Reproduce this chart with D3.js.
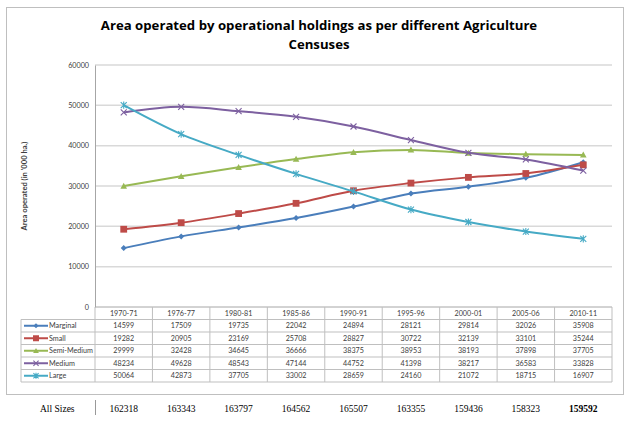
<!DOCTYPE html>
<html><head><meta charset="utf-8">
<script src="https://cdn.jsdelivr.net/npm/d3@7"></script>
<style>body{margin:0;background:#fff}svg{display:block}</style>
</head><body>
<script>
const categories = ["1970-71","1976-77","1980-81","1985-86","1990-91","1995-96","2000-01","2005-06","2010-11"];
const seriesNames = ["Marginal","Small","Semi-Medium","Medium","Large"];
const marginal   = [14599,17509,19735,22042,24894,28121,29814,32026,35908];
const small      = [19282,20905,23169,25708,28827,30722,32139,33101,35244];
const semiMedium = [29999,32428,34645,36666,38375,38953,38193,37898,37705];
const medium     = [48234,49628,48543,47144,44752,41398,38217,36583,33828];
const large      = [50064,42873,37705,33002,28659,24160,21072,18715,16907];
const allSizes   = [162318,163343,163797,164562,165507,163355,159436,158323,159592];
const yTicks = [0,10000,20000,30000,40000,50000,60000];
const colors = ["#4A7EBB","#BE4B48","#98B954","#7D60A0","#46AAC5"];
const markers = ["diamond","square","triangle","x","star"];
const seriesValues = [marginal, small, semiMedium, medium, large];

(function(){
const W=640,H=430;
const svg=d3.select("body").append("svg").attr("width",W).attr("height",H);
const font="Lato, 'Open Sans', sans-serif";

svg.append("rect").attr("x",6.5).attr("y",7.5).attr("width",617).attr("height",387)
  .attr("fill","#fff").attr("stroke","#bfbfbf").attr("stroke-width",1);

const title=svg.append("text").attr("x",319).attr("text-anchor","middle")
  .attr("font-family","'Open Sans', sans-serif").attr("font-weight","bold").attr("font-size",13.2).attr("fill","#000");
title.append("tspan").attr("x",319).attr("y",30).text("Area operated by operational holdings as per different Agriculture");
title.append("tspan").attr("x",319).attr("y",49).text("Censuses");

const x=d3.scaleBand().domain(categories).range([95,612]);
const y=d3.scaleLinear().domain([0,60000]).range([307,65]);
const cx=d=>x(d)+x.bandwidth()/2;

svg.append("g").selectAll("line").data(yTicks.slice(1)).join("line")
  .attr("x1",95).attr("x2",612).attr("y1",d=>y(d)).attr("y2",d=>y(d))
  .attr("stroke","#d9d9d9").attr("stroke-width",1.5);

const yAxis=d3.axisLeft(y).tickValues(yTicks).tickSize(0).tickPadding(6).tickFormat(d3.format("d"));
const ga=svg.append("g").attr("transform","translate(95,0)").call(yAxis);
ga.select(".domain").attr("stroke","#a6a6a6").attr("stroke-width",1);
ga.selectAll("text").attr("font-family",font).attr("font-size",7.2).attr("fill","#404040");

svg.append("text").attr("transform","translate(27,186) rotate(-90)").attr("text-anchor","middle")
  .attr("font-family",font).attr("font-weight","bold").attr("font-size",7.6).attr("fill","#404040")
  .text("Area operated (in '000 ha.)");

function drawMarker(g,type,color,size){
  const s=size;
  if(type==="diamond") g.append("path").attr("d",`M0,${-s}L${s},0L0,${s}L${-s},0Z`).attr("fill",color);
  else if(type==="square") g.append("rect").attr("x",-s).attr("y",-s).attr("width",2*s).attr("height",2*s).attr("fill",color);
  else if(type==="triangle") g.append("path").attr("d",`M0,${-s*1.1}L${s*1.1},${s*0.9}L${-s*1.1},${s*0.9}Z`).attr("fill",color);
  else if(type==="x") g.append("path").attr("d",`M${-s},${-s}L${s},${s}M${-s},${s}L${s},${-s}`).attr("stroke",color).attr("stroke-width",1.1).attr("fill","none");
  else if(type==="star") g.append("path").attr("d",`M${-s},${-s}L${s},${s}M${-s},${s}L${s},${-s}M0,${-s*1.2}L0,${s*1.2}`).attr("stroke",color).attr("stroke-width",1.1).attr("fill","none");
}

const line=d3.line().x((d,i)=>cx(categories[i])).y(d=>y(d)).curve(d3.curveMonotoneX);
seriesValues.forEach((vals,k)=>{
  svg.append("path").datum(vals).attr("d",line).attr("fill","none")
    .attr("stroke",colors[k]).attr("stroke-width",2);
  vals.forEach((v,i)=>{
    const g=svg.append("g").attr("transform",`translate(${cx(categories[i])},${y(v)})`);
    drawMarker(g,markers[k],colors[k],markers[k]==="square"?3.4:3);
  });
});

const rowH=12.5, tTop=307, tleft=21, tright=612;
const tb=svg.append("g");
const lineCol="#bfbfbf";
tb.append("line").attr("x1",95).attr("x2",tright).attr("y1",tTop).attr("y2",tTop).attr("stroke","#a6a6a6");
for(let r=1;r<=6;r++){
  tb.append("line").attr("x1",tleft).attr("x2",tright).attr("y1",tTop+r*rowH).attr("y2",tTop+r*rowH).attr("stroke",lineCol);
}
tb.append("line").attr("x1",tleft).attr("x2",tleft).attr("y1",tTop+rowH).attr("y2",tTop+6*rowH).attr("stroke",lineCol);
[95].concat(categories.map(c=>x(c)+x.bandwidth())).forEach(xx=>{
  tb.append("line").attr("x1",xx).attr("x2",xx).attr("y1",tTop).attr("y2",tTop+6*rowH).attr("stroke",lineCol);
});
tb.selectAll("text.h").data(categories).join("text").attr("class","h")
  .attr("x",d=>cx(d)).attr("y",tTop+rowH/2+2.6).attr("text-anchor","middle")
  .attr("font-family",font).attr("font-size",7.2).attr("fill","#404040").text(d=>d);
seriesNames.forEach((name,k)=>{
  const yy=tTop+(k+1)*rowH+rowH/2;
  tb.append("line").attr("x1",24).attr("x2",48).attr("y1",yy).attr("y2",yy).attr("stroke",colors[k]).attr("stroke-width",2);
  const g=tb.append("g").attr("transform",`translate(36,${yy})`);
  drawMarker(g,markers[k],colors[k],markers[k]==="square"?3:2.6);
  tb.append("text").attr("x",49).attr("y",yy+2.6).attr("font-family",font).attr("font-size",7.2).attr("fill","#404040").text(name);
  seriesValues[k].forEach((v,i)=>{
    tb.append("text").attr("x",cx(categories[i])).attr("y",yy+2.6).attr("text-anchor","middle")
      .attr("font-family",font).attr("font-size",7.2).attr("fill","#404040").text(v);
  });
});

svg.append("text").attr("x",40).attr("y",412).attr("font-family","'Liberation Serif', serif").attr("font-size",9.5).attr("fill","#000").text("All Sizes");
svg.append("line").attr("x1",95.5).attr("x2",95.5).attr("y1",400).attr("y2",415).attr("stroke","#999");
svg.selectAll("text.all").data(allSizes).join("text").attr("class","all")
  .attr("x",(d,i)=>cx(categories[i])).attr("y",412).attr("text-anchor","middle")
  .attr("font-family","'Liberation Serif', serif").attr("font-size",9.5).attr("fill","#000")
  .attr("font-weight",(d,i)=>i===allSizes.length-1?"bold":"normal").text(d=>d);
})();
</script>
</body></html>
